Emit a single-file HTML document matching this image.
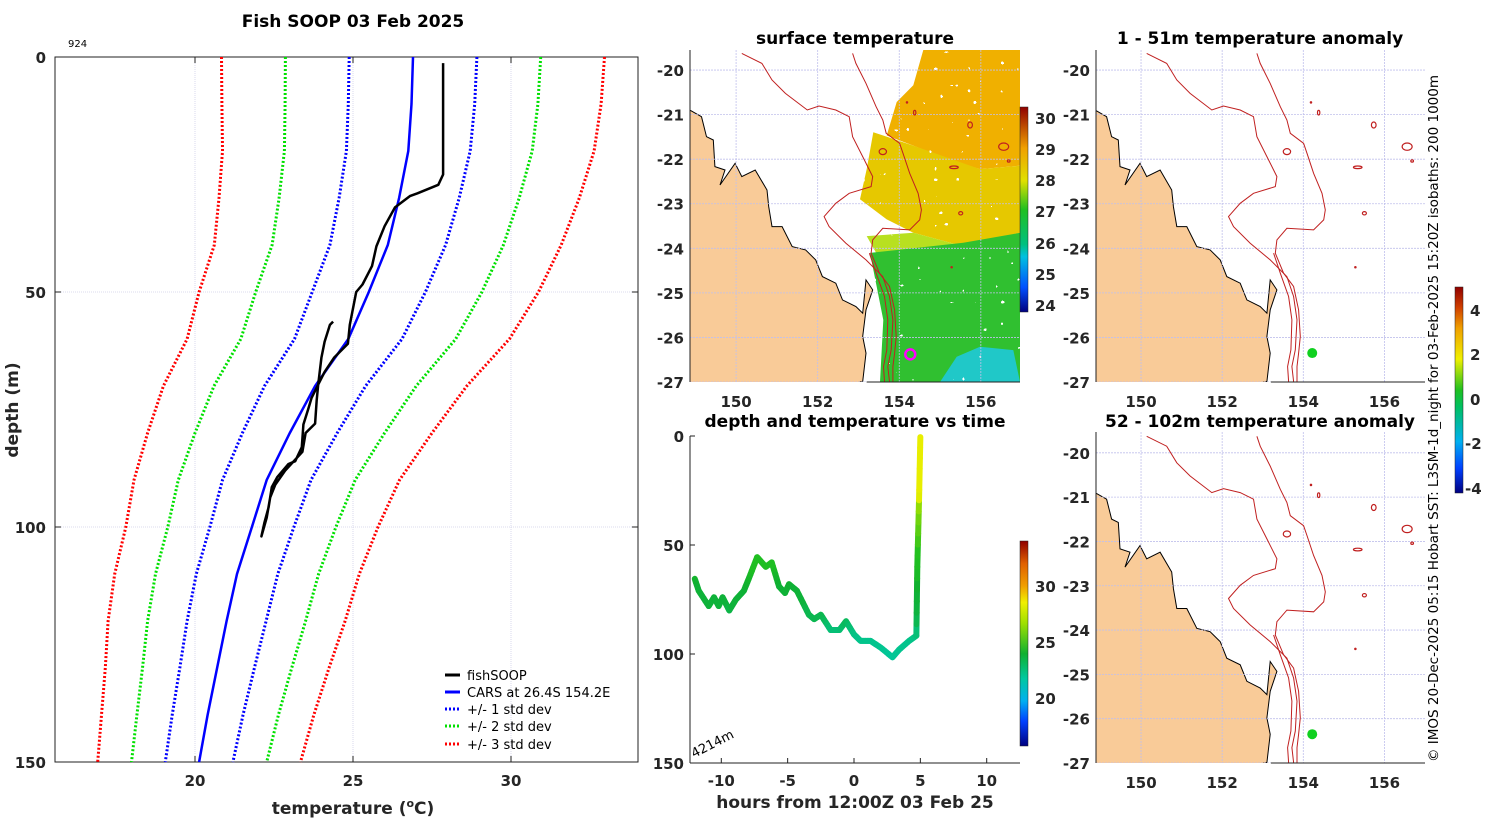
<!DOCTYPE html>
<html><head><meta charset="utf-8">
<style>
html,body{margin:0;padding:0;background:#fff;}
svg{display:block;font-family:"DejaVu Sans","Liberation Sans",sans-serif;}
.tk{font-weight:bold;font-size:15px;fill:#262626;}
.ttl{font-weight:bold;font-size:17px;fill:#000;}
</style></head>
<body>
<svg id="fig" width="1500" height="820" viewBox="0 0 1500 820" xmlns="http://www.w3.org/2000/svg">
<defs>
<linearGradient id="gSST" x1="0" y1="1" x2="0" y2="0">
<stop offset="0" stop-color="#00007f"/><stop offset="0.12" stop-color="#0050ff"/><stop offset="0.27" stop-color="#00c0e0"/><stop offset="0.33" stop-color="#00c080"/><stop offset="0.5" stop-color="#20c020"/><stop offset="0.64" stop-color="#e0e000"/><stop offset="0.8" stop-color="#f0a000"/><stop offset="1" stop-color="#900000"/>
</linearGradient>
<linearGradient id="gT" x1="0" y1="1" x2="0" y2="0">
<stop offset="0" stop-color="#000080"/><stop offset="0.12" stop-color="#0040ff"/><stop offset="0.22" stop-color="#00b0f0"/><stop offset="0.33" stop-color="#00c8a0"/><stop offset="0.45" stop-color="#10b030"/><stop offset="0.6" stop-color="#a0e000"/><stop offset="0.7" stop-color="#f0f000"/><stop offset="0.78" stop-color="#f0a000"/><stop offset="0.89" stop-color="#e06000"/><stop offset="1" stop-color="#900000"/>
</linearGradient>
<linearGradient id="gA" x1="0" y1="1" x2="0" y2="0">
<stop offset="0" stop-color="#000080"/><stop offset="0.12" stop-color="#0040ff"/><stop offset="0.25" stop-color="#00b0f0"/><stop offset="0.42" stop-color="#00c060"/><stop offset="0.5" stop-color="#20c020"/><stop offset="0.65" stop-color="#f0f000"/><stop offset="0.8" stop-color="#f0a000"/><stop offset="0.9" stop-color="#d04000"/><stop offset="1" stop-color="#900000"/>
</linearGradient>
<filter id="nz" x="0" y="0" width="1" height="1">
<feTurbulence type="fractalNoise" baseFrequency="0.18" numOctaves="1" seed="7"/>
<feColorMatrix type="matrix" values="0 0 0 0 1  0 0 0 0 1  0 0 0 0 1  0 0 0 1 0"/>
<feComponentTransfer><feFuncA type="discrete" tableValues="0 0 0 0 0 0 1 1"/></feComponentTransfer>
</filter>
</defs>

<text x="353" y="27" text-anchor="middle" class="ttl">Fish SOOP 03 Feb 2025</text>
<text x="68" y="47" font-size="10" fill="#000">924</text>
<g id="main"></g>
<text x="353" y="814" text-anchor="middle" font-weight="bold" font-size="17" fill="#262626">temperature (<tspan font-size="11" dy="-7">o</tspan><tspan dy="7">C)</tspan></text>
<text transform="translate(18,410) rotate(-90)" text-anchor="middle" font-weight="bold" font-size="17" fill="#262626">depth (m)</text>

<g>
<line x1="445" y1="675" x2="460" y2="675" stroke="#000" stroke-width="3"/><text x="467" y="680" font-size="13">fishSOOP</text>
<line x1="445" y1="692" x2="460" y2="692" stroke="#0000ff" stroke-width="3"/><text x="467" y="697" font-size="13">CARS at 26.4S 154.2E</text>
<line x1="445" y1="709" x2="460" y2="709" stroke="#0000ff" stroke-width="3" stroke-dasharray="2 2"/><text x="467" y="714" font-size="13">+/- 1 std dev</text>
<line x1="445" y1="726" x2="460" y2="726" stroke="#00e000" stroke-width="3" stroke-dasharray="2 2"/><text x="467" y="731" font-size="13">+/- 2 std dev</text>
<line x1="445" y1="744" x2="460" y2="744" stroke="#ff0000" stroke-width="3" stroke-dasharray="2 2"/><text x="467" y="749" font-size="13">+/- 3 std dev</text>
</g>

<text x="855" y="427" text-anchor="middle" class="ttl">depth and temperature vs time</text>
<g id="tplot"></g>
<text x="855" y="808" text-anchor="middle" font-weight="bold" font-size="17" fill="#262626">hours from 12:00Z 03 Feb 25</text>
<text transform="translate(694,758) rotate(-27)" font-size="13" fill="#000">4214m</text>

<text x="855" y="44" text-anchor="middle" class="ttl">surface temperature</text>
<text x="1260" y="44" text-anchor="middle" class="ttl">1 - 51m temperature anomaly</text>
<text x="1260" y="427" text-anchor="middle" class="ttl">52 - 102m temperature anomaly</text>
<g id="maps"></g>

<text transform="translate(1438,762) rotate(-90)" font-size="13.5" fill="#000">© IMOS 20-Dec-2025 05:15 Hobart SST: L3SM-1d_night for 03-Feb-2025 15:20Z isobaths: 200  1000m</text>

<g>
<rect x="1020" y="107" width="8" height="205" fill="url(#gSST)" stroke="#222" stroke-width="0.5"/>
<text x="1035" y="124" class="tk" font-size="13">30</text><text x="1035" y="155" class="tk" font-size="13">29</text><text x="1035" y="186" class="tk" font-size="13">28</text><text x="1035" y="217" class="tk" font-size="13">27</text><text x="1035" y="249" class="tk" font-size="13">26</text><text x="1035" y="280" class="tk" font-size="13">25</text><text x="1035" y="311" class="tk" font-size="13">24</text>
</g>
<g>
<rect x="1020" y="541" width="8" height="205" fill="url(#gT)" stroke="#222" stroke-width="0.5"/>
<text x="1035" y="592" class="tk" font-size="13">30</text><text x="1035" y="648" class="tk" font-size="13">25</text><text x="1035" y="704" class="tk" font-size="13">20</text>
</g>
<g>
<rect x="1455" y="287" width="8" height="206" fill="url(#gA)" stroke="#222" stroke-width="0.5"/>
<text x="1470" y="316" class="tk" font-size="13">4</text><text x="1470" y="360" class="tk" font-size="13">2</text><text x="1470" y="405" class="tk" font-size="13">0</text><text x="1465" y="449" class="tk" font-size="13">-2</text><text x="1465" y="494" class="tk" font-size="13">-4</text>
</g>
</svg>

<script>
// ---------- profile data ----------
const carsDepth = [0,10,20,30,40,50,60,70,80,90,100,110,120,130,140,150];
const carsMean  = [26.9,26.85,26.75,26.46,26.1,25.5,24.85,23.8,23.0,22.27,21.8,21.33,21.0,20.7,20.4,20.13];
const carsStd   = [2.02,2.0,1.96,1.9,1.83,1.79,1.7,1.6,1.5,1.4,1.33,1.29,1.25,1.18,1.12,1.07];
const soopDepth = [1.3,25,27.2,29,29.6,32,36,40.3,44.5,48.4,50,57,61,64,67,69.7,73,78,80,84,88,91,93.7,98,102,99,95.8,91.5,89.4,86.6,86,83,78.2,75,72.5,69.7,64,60.6,57,56.3];
const soopTemp  = [27.85,27.85,27.7,27.04,26.8,26.33,26.0,25.74,25.6,25.3,25.1,24.9,24.84,24.4,24.1,23.9,23.85,23.8,23.5,23.4,22.85,22.54,22.38,22.27,22.1,22.2,22.33,22.43,22.6,22.96,23.17,23.38,23.43,23.58,23.69,23.9,24.0,24.1,24.27,24.37];
const xTicks = [20,25,30];
const yTicks = [0,50,100,150];

// ---------- time series data ----------
const tHours = [-12.0,-11.7,-10.95,-10.55,-10.2,-9.9,-9.4,-8.9,-8.3,-7.9,-7.3,-6.65,-6.2,-5.65,-5.2,-4.9,-4.3,-3.4,-3.0,-2.5,-1.76,-1.1,-0.6,0,0.5,1.25,2.0,2.9,3.4,4.15,4.7,4.77,4.9,5.0];
const tDepth = [65.5,71,78,74,78,74,80,75,71,65,55.6,60,58,69,72,68,71,82,84,82,89,89,85,91,94,94,97,101.5,98,94,91.6,60,29.5,0.5];
const tXTicks = [-10,-5,0,5,10];

const NS='http://www.w3.org/2000/svg';
function mk(parent,tag,attrs){const e=document.createElementNS(NS,tag);for(const k in attrs)e.setAttribute(k,attrs[k]);parent.appendChild(e);return e;}

const X0=55,X1=638,Y0=57,Y1=762;
const xS=t=>195+(t-20)*31.6;
const yS=d=>Y0+d*(Y1-Y0)/150;
const main=document.getElementById('main');
xTicks.forEach(t=>{const l=mk(main,'line',{x1:xS(t),x2:xS(t),y1:Y0,y2:Y1,stroke:'#d0d0e8','stroke-width':0.8,'stroke-dasharray':'1 1'});

const tx=mk(main,'text',{x:xS(t),y:786,'text-anchor':'middle',class:'tk'});tx.textContent=t;

mk(main,'line',{x1:xS(t),x2:xS(t),y1:Y1,y2:Y1-6,stroke:'#222'});mk(main,'line',{x1:xS(t),x2:xS(t),y1:Y0,y2:Y0+6,stroke:'#222'});});
yTicks.forEach(d=>{if(d>0&&d<150){const l=mk(main,'line',{x1:X0,x2:X1,y1:yS(d),y2:yS(d),stroke:'#d0d0e8','stroke-width':0.8,'stroke-dasharray':'1 1'});
}
const tx=mk(main,'text',{x:46,y:yS(d)+6,'text-anchor':'end',class:'tk'});tx.textContent=d;

mk(main,'line',{x1:X0,x2:X0+6,y1:yS(d),y2:yS(d),stroke:'#222'});mk(main,'line',{x1:X1,x2:X1-6,y1:yS(d),y2:yS(d),stroke:'#222'});});
const frame=mk(main,'rect',{x:X0,y:Y0,width:X1-X0,height:Y1-Y0,fill:'none',stroke:'#222','stroke-width':1});

function pathOf(ts,ds){return ts.map((t,i)=>(i?'L':'M')+xS(t).toFixed(1)+','+yS(ds[i]).toFixed(1)).join('');}
[[3,'#ff0000'],[2,'#00e000'],[1,'#0000ff']].forEach(([k,c])=>{[-1,1].forEach(s=>{
const p=mk(main,'path',{d:pathOf(carsMean.map((m,i)=>m+s*k*carsStd[i]),carsDepth),fill:'none',stroke:c,'stroke-width':3,'stroke-dasharray':'2 2'});
});});
const cm=mk(main,'path',{d:pathOf(carsMean,carsDepth),fill:'none',stroke:'#0000ff','stroke-width':2.5});

const sp=mk(main,'path',{d:pathOf(soopTemp,soopDepth),fill:'none',stroke:'#000','stroke-width':2.5,'stroke-linejoin':'round'});


// time plot
const tp=document.getElementById('tplot');
const TX=h=>854+h*13.27, TY=d=>436+d*(763-436)/150;
mk(tp,'line',{x1:690,x2:690,y1:436,y2:763,stroke:'#222'});
mk(tp,'line',{x1:690,x2:1020,y1:763,y2:763,stroke:'#222'});
tXTicks.forEach(h=>{mk(tp,'line',{x1:TX(h),x2:TX(h),y1:763,y2:758,stroke:'#222'});
const t=mk(tp,'text',{x:TX(h),y:786,'text-anchor':'middle',class:'tk'});t.textContent=h;
});
yTicks.forEach(d=>{mk(tp,'line',{x1:690,x2:695,y1:TY(d),y2:TY(d),stroke:'#222'});
const t=mk(tp,'text',{x:684,y:TY(d)+6,'text-anchor':'end',class:'tk'});t.textContent=d;
});
function tempAt(d){for(let i=0;i<24;i++){if(d<=soopDepth[i+1]||i==23){const a=soopDepth[i],b=soopDepth[i+1];const f=Math.max(0,Math.min(1,(d-a)/(b-a)));return soopTemp[i]+f*(soopTemp[i+1]-soopTemp[i]);}}}
const cstops=[[16,[0,0,128]],[18,[0,64,255]],[20,[0,176,240]],[22,[0,200,160]],[24,[16,176,48]],[25,[32,192,32]],[26.5,[160,224,0]],[28,[240,240,0]],[30,[240,160,0]],[32,[224,96,0]],[34,[144,0,0]]];
function cmap(T){for(let i=0;i<cstops.length-1;i++){const [a,ca]=cstops[i],[b,cb]=cstops[i+1];if(T<=b||i==cstops.length-2){const f=Math.max(0,Math.min(1,(T-a)/(b-a)));return 'rgb('+ca.map((v,j)=>Math.round(v+f*(cb[j]-v))).join(',')+')';}}}
for(let i=0;i<tHours.length-1;i++){const n=6;for(let k=0;k<n;k++){const f0=k/n,f1=(k+1)/n;
const h0=tHours[i]+f0*(tHours[i+1]-tHours[i]),h1=tHours[i]+f1*(tHours[i+1]-tHours[i]);
const d0=tDepth[i]+f0*(tDepth[i+1]-tDepth[i]),d1=tDepth[i]+f1*(tDepth[i+1]-tDepth[i]);
const s=mk(tp,'line',{x1:TX(h0),y1:TY(d0),x2:TX(h1),y2:TY(d1),stroke:cmap(tempAt((d0+d1)/2)),'stroke-width':6,'stroke-linecap':'round'});
}}

// maps
const coastZ=[[165,270],[200,290],[215,350],[235,360],[240,440],[270,450],[255,495],[300,430],[320,470],[360,450],[395,510],[400,560],[410,620],[440,620],[470,680],[510,690],[540,720],[560,770],[600,790],[620,840],[660,860],[680,880],[690,780],[710,810],[690,870],[680,950],[690,1000],[680,1085]];
const iso200Z=[[320,100],[380,130],[410,180],[450,220],[515,270],[550,258],[600,270],[640,290],[650,350],[680,410],[710,470],[705,500],[640,520],[600,550],[565,590],[580,620],[630,670],[690,720],[740,770],[760,830],[770,900],[765,990],[755,1040],[760,1085]];
const iso200bZ=[[700,700],[720,760],[745,830],[755,900],[752,990],[742,1040],[745,1085]];
const iso1000Z=[[650,100],[660,130],[690,190],[720,260],[740,300],[750,340],[790,370],[800,400],[820,460],[845,520],[855,570],[850,600],[820,630],[740,625],[710,660],[705,700],[730,760],[760,800],[775,870],[780,950],[775,1000],[770,1040],[770,1085]];
const seamountsZ=[[835,278,7,14],[1000,315,14,18],[952,442,26,8],[972,580,12,10],[740,395,22,18],[1100,380,30,22],[1115,423,8,7],[945,742,4,4],[812,247,4,4]];
function zl(p){return [150+(1040+p[0]/3-1141)/40.5,-20-(20+p[1]/3-70)/44.6];}
const mapsEl=document.getElementById('maps');
const mapDefs=[{x0:690,x1:1020,y0:50,y1:382,lonL:148.87,lonR:156.96,latT:-19.55,latB:-27,name:'sst-map'},
{x0:1096,x1:1425,y0:50,y1:382,lonL:148.89,lonR:157.0,latT:-19.55,latB:-27,name:'anomaly-map-1-51m'},
{x0:1096,x1:1425,y0:432,y1:763,lonL:148.89,lonR:157.0,latT:-19.53,latB:-27,name:'anomaly-map-52-102m'}];
mapDefs.forEach((m,mi)=>{
const g=mk(mapsEl,'g',{});
const px=lon=>m.x0+(lon-m.lonL)/(m.lonR-m.lonL)*(m.x1-m.x0);
const py=lat=>m.y0+(lat-m.latT)/(m.latB-m.latT)*(m.y1-m.y0);
const P=p=>{const q=zl(p);return px(q[0]).toFixed(1)+','+py(q[1]).toFixed(1);};
const cp=mk(g,'clipPath',{id:'clip'+mi});mk(cp,'rect',{x:m.x0,y:m.y0,width:m.x1-m.x0,height:m.y1-m.y0});
const c=mk(g,'g',{'clip-path':'url(#clip'+mi+')'});
if(mi===0){
 const toP=arr=>arr.map(p=>(m.x0+(p[0]-30)*(m.x1-m.x0)/990).toFixed(1)+','+(m.y0+(p[1]-95)*(m.y1-m.y0)/990).toFixed(1)).join(' ');
 const regs=[['#f0b000',[[730,95],[1020,95],[1020,440],[900,450],[800,420],[700,380],[620,350],[650,250],[700,200]]],
 ['#e6c800',[[580,340],[700,380],[900,450],[1020,440],[1020,640],[850,680],[700,640],[620,600],[540,540],[560,450]]],
 ['#b8e020',[[560,650],[700,640],[850,680],[700,720],[600,720]]],
 ['#30c030',[[570,700],[850,670],[1020,640],[1020,1085],[600,1085],[610,900]]],
 ['#20c8c8',[[780,1085],[830,1010],[900,980],[1000,990],[1020,1085]]]];
 regs.forEach(([col,pts])=>{const r=mk(c,'polygon',{points:toP(pts),fill:col});});
 const nzr=mk(c,'rect',{x:m.x0,y:m.y0,width:m.x1-m.x0,height:m.y1-m.y0,fill:'#fff',filter:'url(#nz)'});
 
}
const land=mk(c,'polygon',{points:coastZ.map(P).join(' ')+' '+px(148)+','+py(-28)+' '+px(148)+','+py(-20.8),fill:'#f9cb98',stroke:'#000','stroke-width':1});

[150,152,154,156].forEach(l=>{mk(c,'line',{x1:px(l),x2:px(l),y1:m.y0,y2:m.y1,stroke:'#c0c0ec','stroke-width':0.8,'stroke-dasharray':'2 1'});
const t=mk(g,'text',{x:px(l),y:m.y1+25,'text-anchor':'middle',class:'tk'});t.textContent=l;
});
[-20,-21,-22,-23,-24,-25,-26,-27].forEach(l=>{mk(c,'line',{x1:m.x0,x2:m.x1,y1:py(l),y2:py(l),stroke:'#c0c0ec','stroke-width':0.8,'stroke-dasharray':'2 1'});
const t=mk(g,'text',{x:m.x0-6,y:py(l)+6,'text-anchor':'end',class:'tk'});t.textContent=l;
});
[iso200Z,iso200bZ,iso1000Z].forEach(a=>{const p=mk(c,'polyline',{points:a.map(P).join(' '),fill:'none',stroke:'#c02020','stroke-width':1});
});
seamountsZ.forEach(s=>{const q=zl([s[0],s[1]]);mk(c,'ellipse',{cx:px(q[0]),cy:py(q[1]),rx:s[2]/6,ry:s[3]/6,fill:'none',stroke:'#c02020','stroke-width':1.2});});
mk(g,'line',{x1:m.x0,x2:m.x0,y1:m.y0,y2:m.y1,stroke:'#222'});
mk(g,'line',{x1:px(153.2),x2:m.x1,y1:m.y1,y2:m.y1,stroke:'#222'});
if(mi===0){const o=mk(g,'circle',{cx:px(154.27),cy:py(-26.38),r:5,fill:'none',stroke:'#ff00ff','stroke-width':2.5});
}
else{const o=mk(g,'circle',{cx:px(154.22),cy:py(-26.35),r:5,fill:'#10d020'});
}
});
</script>
</body></html>
